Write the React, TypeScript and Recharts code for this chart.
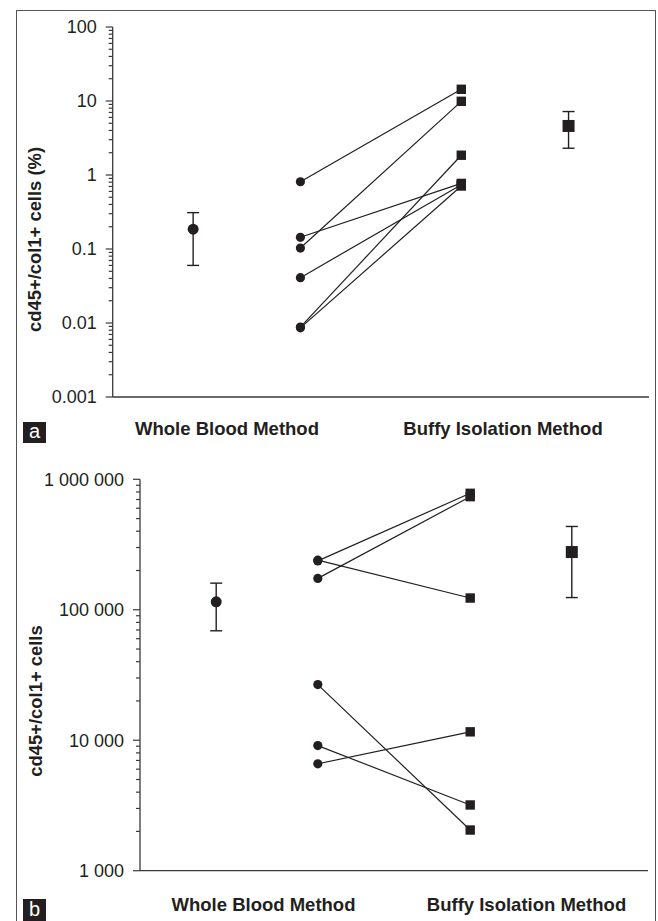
import React from 'react';
import { ScatterChart, Scatter, XAxis, YAxis, ErrorBar } from 'recharts';

const INK = '#231f20';
const AXIS = '#3a3a3a';
const FONT = '"Liberation Sans", Arial, Helvetica, sans-serif';

// x slots on a 0..5 numeric axis: WB summary, WB paired, buffy paired, buffy summary
const xSlots = [0.75, 1.75, 3.25, 4.25];
const categories = ['Whole Blood Method', 'Buffy Isolation Method'];

// panel a - percentage of cd45+/col1+ cells
const pctTicks = [0.001, 0.01, 0.1, 1, 10, 100];
const pctTickLabels = ['0.001', '0.01', '0.1', '1', '10', '100'];
const pctWholeBlood = [0.81, 0.144, 0.103, 0.041, 0.0088, 0.0086];
const pctBuffy = [14.4, 0.77, 9.9, 0.74, 1.85, 0.71];
const pctMean = [0.185, 4.6];
const pctLow = [0.06, 2.3];
const pctHigh = [0.31, 7.2];

// panel b - absolute cell counts
const cellTicks = [1000, 10000, 100000, 1000000];
const cellTickLabels = ['1 000', '10 000', '100 000', '1 000 000'];
const cellWholeBlood = [237000, 240000, 174000, 26700, 9100, 6600];
const cellBuffy = [781000, 123000, 736000, 2050, 3190, 11600];
const cellMean = [115000, 277000];
const cellLow = [69000, 124000];
const cellHigh = [160000, 435000];

// log axis: majors + 2..9 minors in every decade
function withMinors(majors: number[]) {
  const out: number[] = [];
  majors.forEach((m, i) => {
    out.push(m);
    if (i < majors.length - 1) {
      for (let k = 2; k <= 9; k++) out.push(m * k);
    }
  });
  return out;
}

function makeTick(majors: number[], labels: string[]) {
  return (props: any) => {
    const { x, y, payload } = props;
    const idx = majors.findIndex(m => Math.abs(m - payload.value) / m < 1e-6);
    const len = idx >= 0 ? 7 : 4;
    return (
      <g>
        <line x1={x - len} x2={x} y1={y} y2={y} stroke={AXIS} strokeWidth={1.2} />
        {idx >= 0 && (
          <text x={x - 16} y={y} dy="0.36em" textAnchor="end" fontSize={18} fill={INK} fontFamily={FONT}>
            {labels[idx]}
          </text>
        )}
      </g>
    );
  };
}

const pairShape = (p: any) =>
  p.payload.kind === 'wb'
    ? <circle cx={p.cx} cy={p.cy} r={4.6} fill={INK} />
    : <rect x={p.cx - 4.7} y={p.cy - 4.7} width={9.4} height={9.4} fill={INK} />;

const meanDot = (p: any) => <circle cx={p.cx} cy={p.cy} r={5.5} fill={INK} />;
const meanSquare = (p: any) => <rect x={p.cx - 6} y={p.cy - 6} width={12} height={12} fill={INK} />;

interface PanelProps {
  top: number;
  height: number;
  margin: { top: number; right: number; bottom: number; left: number };
  majors: number[];
  labels: string[];
  wb: number[];
  buffy: number[];
  mean: number[];
  low: number[];
  high: number[];
}

function Panel({ top, height, margin, majors, labels, wb, buffy, mean, low, high }: PanelProps) {
  const pairs = wb.map((v, i) => [
    { x: xSlots[1], y: v, kind: 'wb' },
    { x: xSlots[2], y: buffy[i], kind: 'buffy' },
  ]);
  const wbSummary = [{ x: xSlots[0], y: mean[0], err: [mean[0] - low[0], high[0] - mean[0]] }];
  const buffySummary = [{ x: xSlots[3], y: mean[1], err: [mean[1] - low[1], high[1] - mean[1]] }];

  return (
    <div style={{ position: 'absolute', left: 0, top, width: 658, height }}>
      <ScatterChart width={658} height={height} margin={margin}>
        <XAxis
          type="number"
          dataKey="x"
          domain={[0, 5]}
          ticks={xSlots}
          tick={false}
          tickSize={7}
          height={10}
          stroke={AXIS}
          strokeWidth={1.3}
        />
        <YAxis
          type="number"
          dataKey="y"
          scale="log"
          domain={[majors[0], majors[majors.length - 1]]}
          allowDataOverflow
          ticks={withMinors(majors)}
          interval={0}
          minTickGap={0}
          tickLine={false}
          tickSize={0}
          tickMargin={0}
          tick={makeTick(majors, labels)}
          width={60}
          stroke={AXIS}
          strokeWidth={1.3}
        />
        {pairs.map((d, i) => (
          <Scatter
            key={i}
            data={d}
            line={{ stroke: INK, strokeWidth: 1.2 }}
            shape={pairShape}
            isAnimationActive={false}
          />
        ))}
        <Scatter data={wbSummary} shape={meanDot} isAnimationActive={false}>
          <ErrorBar dataKey="err" direction="y" width={6} stroke={INK} strokeWidth={1.4} isAnimationActive={false} />
        </Scatter>
        <Scatter data={buffySummary} shape={meanSquare} isAnimationActive={false}>
          <ErrorBar dataKey="err" direction="y" width={6} stroke={INK} strokeWidth={1.4} isAnimationActive={false} />
        </Scatter>
      </ScatterChart>
    </div>
  );
}

const textStyle = { fontFamily: FONT, fill: INK };

export default function App() {
  return (
    <div style={{ position: 'absolute', left: 0, top: 0, width: 658, height: 921, background: '#fff', overflow: 'hidden' }}>
      {/* outer frame, open at the bottom */}
      <div
        style={{
          position: 'absolute', left: 16, top: 10, width: 638, height: 920,
          borderTop: '1.5px solid #555', borderLeft: '1.5px solid #555', borderRight: '1.5px solid #555',
        }}
      />

      <Panel
        top={0}
        height={450}
        margin={{ top: 27, right: 9, bottom: 43, left: 52.7 }}
        majors={pctTicks}
        labels={pctTickLabels}
        wb={pctWholeBlood}
        buffy={pctBuffy}
        mean={pctMean}
        low={pctLow}
        high={pctHigh}
      />
      <Panel
        top={450}
        height={471}
        margin={{ top: 29.3, right: 10, bottom: 40.3, left: 80 }}
        majors={cellTicks}
        labels={cellTickLabels}
        wb={cellWholeBlood}
        buffy={cellBuffy}
        mean={cellMean}
        low={cellLow}
        high={cellHigh}
      />

      <svg width={658} height={921} style={{ position: 'absolute', left: 0, top: 0, pointerEvents: 'none' }}>
        {/* axis titles */}
        <text transform="translate(41,239.5) rotate(-90)" textAnchor="middle" fontSize={18.4} fontWeight="bold" {...textStyle}>
          cd45+/col1+ cells (%)
        </text>
        <text transform="translate(42,701) rotate(-90)" textAnchor="middle" fontSize={18.4} fontWeight="bold" {...textStyle}>
          cd45+/col1+ cells
        </text>

        {/* category labels */}
        <text x={227} y={435} textAnchor="middle" fontSize={18.5} fontWeight="bold" {...textStyle}>{categories[0]}</text>
        <text x={503} y={435} textAnchor="middle" fontSize={18.5} fontWeight="bold" {...textStyle}>{categories[1]}</text>
        <text x={263.5} y={911} textAnchor="middle" fontSize={18.5} fontWeight="bold" {...textStyle}>{categories[0]}</text>
        <text x={526.5} y={911} textAnchor="middle" fontSize={18.5} fontWeight="bold" {...textStyle}>{categories[1]}</text>

        {/* panel letters */}
        <rect x={23} y={422} width={23} height={21} fill={INK} />
        <text x={34.5} y={438} textAnchor="middle" fontSize={20} fill="#fff" fontFamily={FONT}>a</text>
        <rect x={23} y={899} width={23} height={22} fill={INK} />
        <text x={34.5} y={916} textAnchor="middle" fontSize={20} fill="#fff" fontFamily={FONT}>b</text>
      </svg>
    </div>
  );
}
